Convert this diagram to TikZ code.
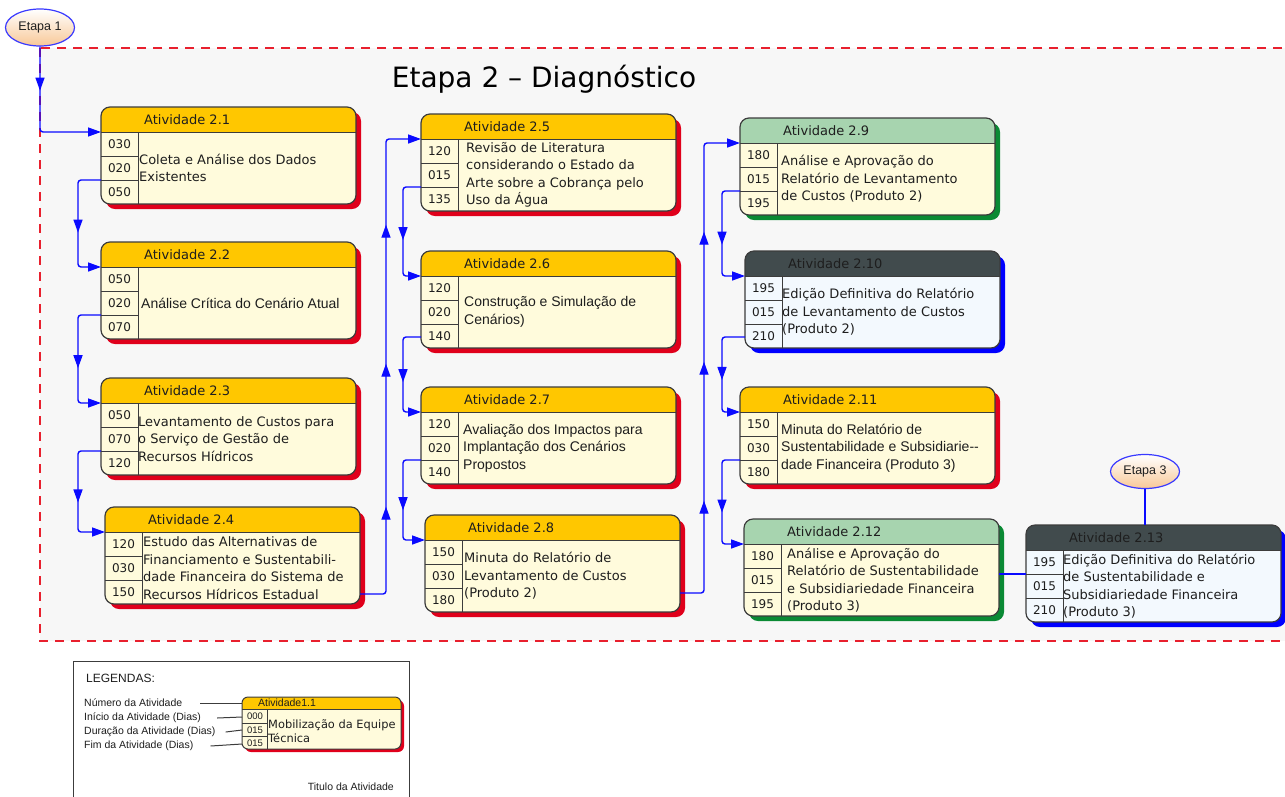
\documentclass[tikz,border=0pt]{standalone}
\usepackage{fontspec}
\setmainfont{Liberation Sans}
\newfontfamily\vd{DejaVu Sans}
\usetikzlibrary{arrows.meta,decorations.markings,shapes.geometric}

\definecolor{hdrYel}{HTML}{FFC700}
\definecolor{cream}{HTML}{FFFBDC}
\definecolor{shRed}{HTML}{E0001B}
\definecolor{hdrGrn}{HTML}{A7D4AF}
\definecolor{shGrn}{HTML}{0A8A34}
\definecolor{hdrDrk}{HTML}{414B4D}
\definecolor{bodyBlu}{HTML}{F3F9FE}
\definecolor{shBlu}{HTML}{0000FF}
\definecolor{linkBlu}{HTML}{0A0AFF}
\definecolor{zoneRed}{HTML}{E8202E}
\definecolor{zoneFill}{HTML}{F7F7F7}
\definecolor{edgeGray}{HTML}{3C3C3C}
\definecolor{ink}{HTML}{1E1E1E}
\definecolor{peach}{HTML}{F8C897}
\definecolor{ellBlu}{HTML}{3A3AFF}

\tikzset{
  yel/.style={cardhead/.style={fill=hdrYel}, cardshadow/.style={fill=shRed}, cardbody/.style={fill=cream}},
  grn/.style={cardhead/.style={fill=hdrGrn}, cardshadow/.style={fill=shGrn}, cardbody/.style={fill=cream}},
  drk/.style={cardhead/.style={fill=hdrDrk}, cardshadow/.style={fill=shBlu}, cardbody/.style={fill=bodyBlu}},
  arial/.style={bodytext/.append style={font=\rmfamily\fontsize{14}{17.5}\selectfont}},
  rule/.style={draw=edgeGray, line width=1pt},
  frame/.style={draw=edgeGray, line width=1.2pt, rounded corners=9pt, minimum width=255pt,
    minimum height=97pt, inner sep=0pt, outer sep=0pt},
  headtext/.style={anchor=west, inner sep=0pt, text=ink, font=\vd\fontsize{13}{15}\selectfont},
  numtext/.style={inner sep=0pt, text=ink, font=\vd\fontsize{12}{14}\selectfont},
  bodytext/.style={anchor=west, align=left, inner sep=0pt, text=ink, font=\vd\fontsize{13}{17.5}\selectfont},
  link/.style={draw=linkBlu, line width=1.4pt, rounded corners=3pt},
  tipend/.style={-{Triangle[length=13pt,width=9pt]}},
  midtip/.style={postaction={decorate, decoration={markings,
    mark=at position #1 with {\arrow{Triangle[length=13pt,width=9pt]}}}}},
  stage/.style={ellipse, draw=ellBlu, line width=1.2pt, top color=white, bottom color=peach,
    minimum width=69pt, minimum height=37pt, inner sep=0pt, text=ink, font=\fontsize{12.5}{14}\selectfont},
  legtext/.style={anchor=west, inner sep=0pt, text=ink, font=\fontsize{10.5}{12}\selectfont},
  legline/.style={draw=edgeGray, line width=1pt}
}

% activity card: [text offset]{name}{top-left}{colour scheme}{number}{start}{duration}{end}{title}
\newcommand\card[9][38]{%
  \begin{scope}[shift={(#3)},#4]
    \fill[cardshadow, rounded corners=9pt] (5,5) rectangle (260,102);
    \begin{scope}
      \clip[rounded corners=9pt] (0,0) rectangle (255,97);
      \fill[cardbody] (0,0) rectangle (255,97);
      \fill[cardhead] (0,0) rectangle (255,25);
    \end{scope}
    \draw[rule] (0,25) -- (255,25);
    \draw[rule] (37,25) -- (37,97);
    \draw[rule] (0,49) -- (37,49);
    \draw[rule] (0,73) -- (37,73);
    \node[frame] (#2) at (127.5,48.5) {};
    \node[headtext] (#2-title) at (43,12.5) {Atividade #5};
    \node[numtext] (#2-n1) at (18.5,37) {#6};
    \node[numtext] (#2-n2) at (18.5,61) {#7};
    \node[numtext] (#2-n3) at (18.5,85) {#8};
    \node[bodytext] (#2-text) at (#1,61) {#9};
    \coordinate (#2-in) at (0,25);
    \coordinate (#2-mid) at (0,49);
    \coordinate (#2-out) at (0,73);
    \coordinate (#2-low) at (0,86);
  \end{scope}}

\begin{document}
\begin{tikzpicture}[x=1pt, y=-1pt]
\useasboundingbox (0,0) rectangle (1285,796);
\clip (0,0) rectangle (1285,796);
\fill[white] (0,0) rectangle (1285,796);

% stage 2 zone
\draw[zoneRed, fill=zoneFill, line width=2pt, dash pattern=on 9pt off 7pt] (40,48) rectangle (1300,641);
\node[inner sep=0pt, text=black, font=\vd\fontsize{28}{31}\selectfont] (zonetitle) at (544,79) {Etapa 2 – Diagnóstico};

% stage markers
\node[stage] (e1) at (40,27.5) {Etapa 1};
\node[stage, minimum height=34pt] (e3) at (1145,471.5) {Etapa 3};

% first column
\card{a21}{101,107}{yel}{2.1}{030}{020}{050}{Coleta e Análise dos Dados\\Existentes}
\card[40]{a22}{101,242}{yel,arial}{2.2}{050}{020}{070}{Análise Crítica do Cenário Atual}
\card[37]{a23}{101,378}{yel}{2.3}{050}{070}{120}{Levantamento de Custos para\\o Serviço de Gestão de\\Recursos Hídricos}
\card{a24}{105,507}{yel}{2.4}{120}{030}{150}{Estudo das Alternativas de\\Financiamento e Sustentabili-\\dade Financeira do Sistema de\\Recursos Hídricos Estadual}

% second column
\card[45]{a25}{421,114}{yel}{2.5}{120}{015}{135}{Revisão de Literatura\\considerando o Estado da\\Arte sobre a Cobrança pelo\\Uso da Água}
\card[43]{a26}{421,251}{yel,arial}{2.6}{120}{020}{140}{Construção e Simulação de\\Cenários)}
\card[42]{a27}{421,387}{yel,arial}{2.7}{120}{020}{140}{Avaliação dos Impactos para\\Implantação dos Cenários\\Propostos}
\card[39]{a28}{425,515}{yel}{2.8}{150}{030}{180}{Minuta do Relatório de\\Levantamento de Custos\\(Produto 2)}

% third column
\card[41]{a29}{740,118}{grn}{2.9}{180}{015}{195}{Análise e Aprovação do\\Relatório de Levantamento\\de Custos (Produto 2)}
\card[37]{a210}{745,251}{drk}{2.10}{195}{015}{210}{Edição Definitiva do Relatório\\de Levantamento de Custos\\(Produto 2)}
\card[41]{a211}{740,387}{yel,arial}{2.11}{150}{030}{180}{Minuta do Relatório de\\Sustentabilidade e Subsidiarie-{}-\\dade Financeira (Produto 3)}
\card[43]{a212}{744,519}{grn}{2.12}{180}{015}{195}{Análise e Aprovação do\\Relatório de Sustentabilidade\\e Subsidiariedade Financeira\\(Produto 3)}

% closing activity
\card[37]{a213}{1026,525}{drk}{2.13}{195}{015}{210}{Edição Definitiva do Relatório\\de Sustentabilidade e\\Subsidiariedade Financeira\\(Produto 3)}

% precedence links
\draw[link, tipend, midtip=44pt] (e1.south) |- (a21-in);
\draw[link, tipend, midtip=0.57] (a21-out) -- ++(-23,0) |- (a22-in);
\draw[link, tipend, midtip=0.57] (a22-out) -- ++(-23,0) |- (a23-in);
\draw[link, tipend, midtip=0.57] (a23-out) -- ++(-23,0) |- (a24-in);
\draw[link, tipend, midtip=112pt, midtip=255pt, midtip=394pt]
  ([yshift=-38.5pt]a24.east) -- ++(26,0) |- (a25-in);
\draw[link, tipend, midtip=0.57] (a25-out) -- ++(-18,0) |- (a26-in);
\draw[link, tipend, midtip=0.57] (a26-low) -- ++(-18,0) |- (a27-in);
\draw[link, tipend, midtip=0.57] (a27-out) -- ++(-18,0) |- (a28-in);
\draw[link, tipend, midtip=115pt, midtip=254pt, midtip=384pt]
  ([yshift=-29.5pt]a28.east) -- ++(24,0) |- (a29-in);
\draw[link, tipend, midtip=0.57] (a29-out) -- ++(-18,0) |- (a210-in);
\draw[link, tipend, midtip=0.57] (a210-low) -- ++(-23,0) |- (a211-in);
\draw[link, tipend, midtip=0.57] (a211-out) -- ++(-18,0) |- (a212-in);
\draw[link] (a212.east |- a213-mid) -- (a213-mid);
\draw[link] (e3.south) -- (e3.south |- a213.north);

% legend
\draw[draw=edgeGray, line width=1pt] (73,661) rectangle (409,810);
\node[legtext, font=\fontsize{12}{14}\selectfont] (legtitle) at (86,678) {LEGENDAS:};
\node[legtext] (lg1) at (84,703) {Número da Atividade};
\node[legtext] (lg2) at (84,718) {Início da Atividade (Dias)};
\node[legtext] (lg3) at (84,732) {Duração da Atividade (Dias)};
\node[legtext] (lg4) at (84,746) {Fim da Atividade (Dias)};
\node[legtext, anchor=east] (lg5) at (394,787) {Titulo da Atividade};

\fill[shRed, rounded corners=6pt] (245,700) rectangle (404,752);
\begin{scope}
  \clip[rounded corners=6pt] (242,697) rectangle (401,749);
  \fill[cream] (242,697) rectangle (401,749);
  \fill[hdrYel] (242,697) rectangle (401,709);
\end{scope}
\draw[rule, line width=0.8pt] (242,709) -- (401,709);
\draw[rule, line width=0.8pt] (267,709) -- (267,749);
\draw[rule, line width=0.8pt] (242,723) -- (267,723);
\draw[rule, line width=0.8pt] (242,736) -- (267,736);
\node[draw=edgeGray, line width=1pt, rounded corners=6pt, minimum width=159pt, minimum height=52pt,
  inner sep=0pt] (mini) at (321.5,723) {};
\node[inner sep=0pt, text=ink, font=\fontsize{10.5}{12}\selectfont] (mini-title) at (287,703) {Atividade1.1};
\node[inner sep=0pt, text=ink, font=\fontsize{9.5}{10}\selectfont] (mini-n1) at (255,716.5) {000};
\node[inner sep=0pt, text=ink, font=\fontsize{9.5}{10}\selectfont] (mini-n2) at (255,730) {015};
\node[inner sep=0pt, text=ink, font=\fontsize{9.5}{10}\selectfont] (mini-n3) at (255,743) {015};
\node[anchor=west, align=left, inner sep=0pt, text=ink, font=\vd\fontsize{11.4}{14}\selectfont]
  (mini-text) at (268,731) {Mobilização da Equipe\\Técnica};

\draw[legline] (lg1.east) ++(18,0) -- (mini.west |- lg1.east);
\draw[legline] (lg2.east) ++(16,0) -- (242,717);
\draw[legline] (lg3.east) ++(10,0) -- (242,730);
\draw[legline] (lg4.east) ++(17,0) -- (242,744);
\end{tikzpicture}
\end{document}
